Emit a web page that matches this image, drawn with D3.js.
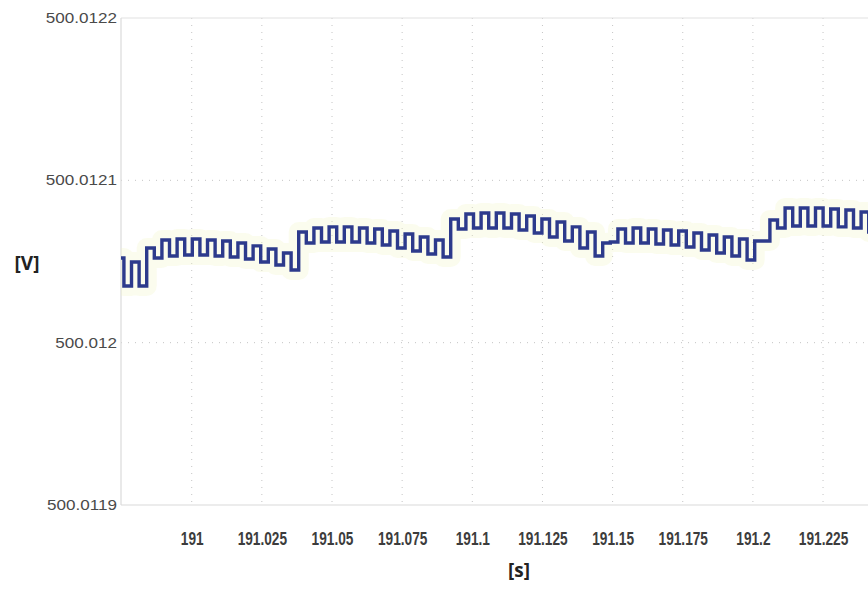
<!DOCTYPE html>
<html>
<head>
<meta charset="utf-8">
<script src="https://cdn.jsdelivr.net/npm/d3@7"></script>
<style>
  html, body { margin: 0; padding: 0; background: #ffffff; }
  svg { display: block; }
</style>
</head>
<body>
<svg id="chart" width="868" height="592"></svg>
<script>
// Measured DC voltage, sampled at a fixed interval (step-held samples).
const sampleStart = 190.97313;   // s, time of first sample
const samplePeriod = 0.0027085;  // s, sample interval

const voltage = [
  500.0120522, 500.0120349, 500.0120497, 500.0120349, 500.0120583, 500.0120522,
  500.0120632, 500.0120534, 500.0120639, 500.0120540, 500.0120639, 500.0120540,
  500.0120632, 500.0120534, 500.0120626, 500.0120528, 500.0120614, 500.0120515,
  500.0120596, 500.0120497, 500.0120577, 500.0120478, 500.0120552, 500.0120448,
  500.0120682, 500.0120614, 500.0120706, 500.0120620, 500.0120713, 500.0120620,
  500.0120713, 500.0120620, 500.0120706, 500.0120614, 500.0120700, 500.0120602,
  500.0120688, 500.0120583, 500.0120669, 500.0120565, 500.0120651, 500.0120546,
  500.0120632, 500.0120528, 500.0120762, 500.0120700, 500.0120793, 500.0120706,
  500.0120799, 500.0120706, 500.0120799, 500.0120706, 500.0120793, 500.0120694,
  500.0120780, 500.0120676, 500.0120762, 500.0120651, 500.0120743, 500.0120626,
  500.0120713, 500.0120583, 500.0120682, 500.0120534, 500.0120614, 500.0120620,
  500.0120700, 500.0120614, 500.0120706, 500.0120614, 500.0120700, 500.0120608,
  500.0120694, 500.0120602, 500.0120688, 500.0120589, 500.0120676, 500.0120571,
  500.0120663, 500.0120552, 500.0120651, 500.0120534, 500.0120639, 500.0120509,
  500.0120626, 500.0120626, 500.0120756, 500.0120706, 500.0120830, 500.0120719,
  500.0120830, 500.0120719, 500.0120830, 500.0120719, 500.0120823, 500.0120713,
  500.0120817, 500.0120706, 500.0120805, 500.0120682
];

const timeTicks = [191, 191.025, 191.05, 191.075, 191.1, 191.125, 191.15, 191.175, 191.2, 191.225];
const timeTickLabels = ["191", "191.025", "191.05", "191.075", "191.1", "191.125", "191.15", "191.175", "191.2", "191.225"];
const voltTicks = [500.0119, 500.012, 500.0121, 500.0122];
const voltTickLabels = ["500.0119", "500.012", "500.0121", "500.0122"];

const timeDomain = [190.9748, 191.2448];
const voltDomain = [500.0119, 500.0122];
const xTitle = "[s]";
const yTitle = "[V]";

// ---- layout ----
const svg = d3.select("#chart");
const plotLeft = 121, plotTop = 18, plotBottom = 505;
const x = d3.scaleLinear().domain(timeDomain).range([plotLeft, plotLeft + 757.6]);
const y = d3.scaleLinear().domain(voltDomain).range([plotBottom, plotTop]);
const plotRight = x.range()[1];

// grid
const grid = svg.append("g").attr("class", "grid");
grid.selectAll("line.v").data(timeTicks).join("line")
  .attr("class", "v")
  .attr("x1", d => x(d)).attr("x2", d => x(d))
  .attr("y1", plotTop).attr("y2", plotBottom)
  .attr("stroke", "#c4c4c4").attr("stroke-width", 1)
  .attr("stroke-dasharray", "1,6");
grid.selectAll("line.h").data(voltTicks.slice(1, -1)).join("line")
  .attr("class", "h")
  .attr("x1", plotLeft).attr("x2", plotRight)
  .attr("y1", d => y(d)).attr("y2", d => y(d))
  .attr("stroke", "#c4c4c4").attr("stroke-width", 1)
  .attr("stroke-dasharray", "1,6");
// frame lines
grid.append("line").attr("x1", plotLeft).attr("x2", plotRight)
  .attr("y1", y(voltDomain[1])).attr("y2", y(voltDomain[1]))
  .attr("stroke", "#e2e2e2").attr("stroke-width", 1.2);
grid.append("line").attr("x1", plotLeft).attr("x2", plotRight)
  .attr("y1", y(voltDomain[0])).attr("y2", y(voltDomain[0]))
  .attr("stroke", "#dadada").attr("stroke-width", 1.2);
grid.append("line").attr("x1", plotLeft).attr("x2", plotLeft)
  .attr("y1", plotTop).attr("y2", plotBottom)
  .attr("stroke", "#dadada").attr("stroke-width", 1.2);

// signal
const samples = voltage.map((v, i) => ({ t: sampleStart + i * samplePeriod, v }));
samples.push({ t: sampleStart + voltage.length * samplePeriod, v: voltage[voltage.length - 1] });

svg.append("clipPath").attr("id", "plot-clip")
  .append("rect").attr("x", plotLeft).attr("y", 0)
  .attr("width", plotRight - plotLeft).attr("height", plotBottom);

const line = d3.line().x(d => x(d.t)).y(d => y(d.v)).curve(d3.curveStepAfter);

const plot = svg.append("g").attr("clip-path", "url(#plot-clip)");
// faint raw-trace haze around the held signal
plot.append("path").datum(samples)
  .attr("d", line).attr("fill", "none")
  .attr("stroke", "#f2f4c6").attr("stroke-opacity", 0.3)
  .attr("stroke-width", 20).attr("stroke-linejoin", "round");
plot.append("path").datum(samples)
  .attr("d", line).attr("fill", "none")
  .attr("stroke", "#2d3a8c").attr("stroke-width", 3.4)
  .attr("stroke-linejoin", "miter");

// x axis
const xAxis = svg.append("g").attr("transform", `translate(0,${plotBottom})`)
  .call(d3.axisBottom(x).tickValues(timeTicks)
    .tickFormat((d, i) => timeTickLabels[i]).tickSize(0).tickPadding(27));
xAxis.select(".domain").remove();
xAxis.selectAll("text")
  .attr("font-family", "'Liberation Sans', Arial, sans-serif")
  .attr("font-size", 18).attr("font-weight", "bold")
  .attr("fill", "#3c3c3c")
  .attr("transform", "scale(0.76,1)");

// y axis
const yAxis = svg.append("g").attr("transform", `translate(${plotLeft},0)`)
  .call(d3.axisLeft(y).tickValues(voltTicks)
    .tickFormat((d, i) => voltTickLabels[i]).tickSize(0));
yAxis.select(".domain").remove();
yAxis.selectAll("text")
  .attr("x", -3.3)
  .attr("font-family", "'Liberation Sans', Arial, sans-serif")
  .attr("font-size", 14)
  .attr("fill", "#4a4a4a")
  .attr("transform", "scale(1.22,1)");

// axis titles
svg.append("text").attr("x", 519).attr("y", 577)
  .attr("text-anchor", "middle")
  .attr("font-family", "'Open Sans', 'Liberation Sans', sans-serif")
  .attr("font-size", 19).attr("font-weight", "bold").attr("fill", "#222")
  .text(xTitle);
svg.append("text").attr("x", 27).attr("y", 270)
  .attr("text-anchor", "middle")
  .attr("font-family", "'Open Sans', 'Liberation Sans', sans-serif")
  .attr("font-size", 19).attr("font-weight", "bold").attr("fill", "#222")
  .text(yTitle);
</script>
</body>
</html>
